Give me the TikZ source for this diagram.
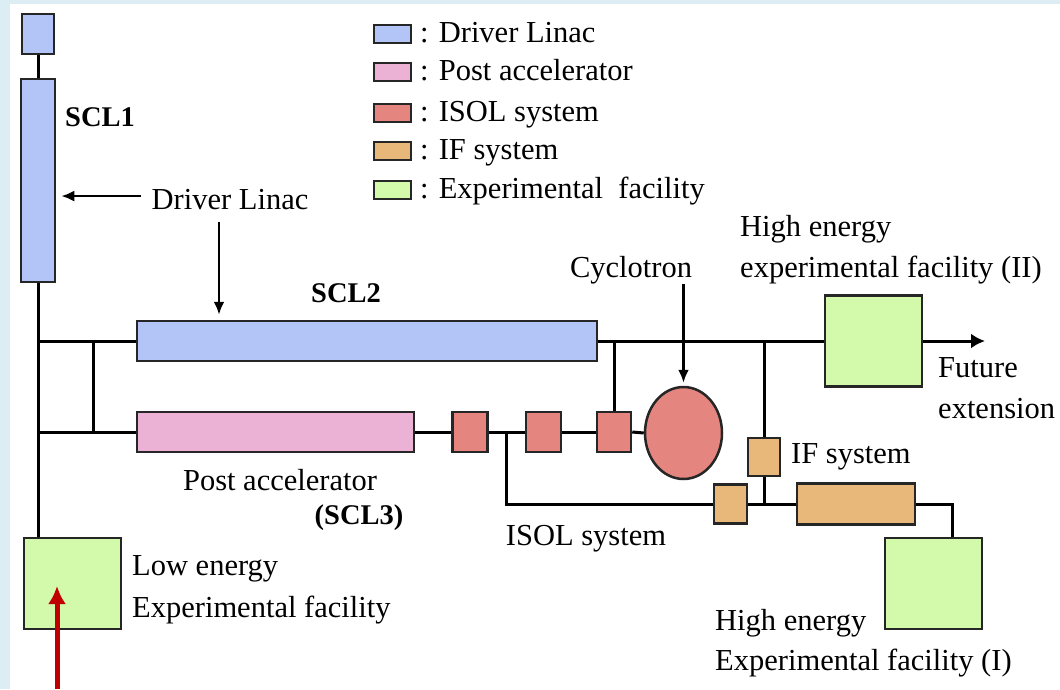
\documentclass[tikz,border=0pt]{standalone}
\usepackage{fontspec}
\setmainfont{Liberation Serif}
\usepackage{xcolor}
\usepackage{tikz}
\usetikzlibrary{calc,positioning,shapes.geometric,arrows.meta}

\definecolor{drvblue}{RGB}{178,197,246}
\definecolor{postpink}{RGB}{236,178,214}
\definecolor{isolred}{RGB}{229,133,127}
\definecolor{iforange}{RGB}{232,184,122}
\definecolor{expgreen}{RGB}{210,250,170}
\definecolor{frameblue}{RGB}{220,237,243}
\definecolor{arrowred}{RGB}{192,0,0}

\tikzset{
	lbl/.style={font=\fontsize{30.5}{36}\selectfont,inner sep=0pt},
	boldlbl/.style={font=\fontsize{28.5}{34}\selectfont\bfseries,inner sep=0pt},
	unit/.style={draw=black!85,line width=2.5pt,inner sep=0pt,rectangle},
	beam/.style={line width=3pt},
	pointer/.style={-{Latex[length=13pt,width=11pt]},line width=2.5pt}
}

\begin{document}
\begin{tikzpicture}[x=1pt,y=-1pt]
	\useasboundingbox (0,0) rectangle (1060,689);
	\fill[frameblue] (0,0) rectangle (10,689);
	\fill[frameblue] (0,0) rectangle (1060,4);

	\node[unit,fill=drvblue,minimum width=32pt,minimum height=40pt] (inj) at (38,34) {};
	\node[unit,fill=drvblue,minimum width=34pt,minimum height=203pt] (scl1) at (38,180.5) {};
	\node[unit,fill=drvblue,minimum width=460pt,minimum height=40pt] (scl2) at (367,341) {};
	\node[unit,fill=postpink,minimum width=277pt,minimum height=40pt] (post) at (275.5,432) {};
	\node[unit,fill=isolred,minimum width=35pt,minimum height=40pt] (isolA) at (470,432) {};
	\node[unit,fill=isolred,minimum width=35pt,minimum height=40pt] (isolB) at (543.5,432) {};
	\node[unit,fill=isolred,minimum width=34pt,minimum height=40pt] (isolC) at (614,432) {};
	\node[unit,ellipse,fill=isolred,minimum width=77pt,minimum height=92pt] (cyc) at (683.5,433) {};
	\node[unit,fill=iforange,minimum width=32pt,minimum height=38pt] (ifA) at (764,457) {};
	\node[unit,fill=iforange,minimum width=33pt,minimum height=39pt] (ifB) at (730.5,504) {};
	\node[unit,fill=iforange,minimum width=118pt,minimum height=41pt] (ifC) at (856,504) {};
	\node[unit,fill=expgreen,minimum width=97pt,minimum height=91pt] (lowexp) at (72.5,583.5) {};
	\node[unit,fill=expgreen,minimum width=97pt,minimum height=91pt] (hexpI) at (933.5,583.5) {};
	\node[unit,fill=expgreen,minimum width=97pt,minimum height=91pt] (hexpII) at (873.5,341) {};

	\draw[beam] (inj.south) -- (scl1.north);
	\draw[beam] (scl1.south) -- (scl1.south |- lowexp.north);
	\draw[beam] (scl1.south |- scl2.west) -- (scl2.west);
	\draw[beam] (scl1.south |- post.west) -- (post.west);
	\coordinate (tapA) at (93,341);
	\draw[beam] (tapA) -- (tapA |- post.west);
	\draw[beam] (scl2.east) -- (hexpII.west);
	\coordinate (future) at (985,341);
	\draw[beam,-{Latex[length=14pt,width=15pt]}] (hexpII.east) -- (future);
	\draw[beam] (post.east) -- (isolA.west);
	\draw[beam] (isolA.east) -- (isolB.west);
	\draw[beam] (isolB.east) -- (isolC.west);
	\draw[beam] (isolC.east) -- (cyc.west);
	\draw[beam] (isolC.north) -- (isolC.north |- scl2.east);
	\draw[beam] (ifA.north) -- (ifA.north |- scl2.east);
	\coordinate (tapB) at (506,432);
	\draw[beam] (tapB) |- (ifB.west);
	\draw[beam] (ifB.east) -- (ifC.west);
	\draw[beam] (ifA.south) -- (ifA.south |- ifB.east);
	\coordinate (tapC) at (952,504);
	\draw[beam] (ifC.east) -- (tapC) -- (tapC |- hexpI.north);

	\foreach \col/\txt/\b [count=\i] in {drvblue/Driver Linac/42,postpink/Post accelerator/80,isolred/ISOL system/121,iforange/IF system/159,expgreen/Experimental\ \ facility/198}
	{
	\node[unit,fill=\col,line width=2pt,minimum width=37pt,minimum height=18pt] (sw\i) at (392.5,\b-8) {};
	\node[lbl,anchor=base west] (key\i) at (420,\b) {: \txt};
	}

	\node[boldlbl,anchor=base] (scl1lab) at (100,126) {SCL1};
	\node[boldlbl,anchor=base] (scl2lab) at (346,302) {SCL2};
	\node[boldlbl,anchor=base] (scl3lab) at (359,524) {(SCL3)};

	\node[lbl,anchor=base] (dlin) at (230,209) {Driver Linac};
	\coordinate (dB) at ([xshift=-10pt,yshift=3pt]dlin.west);
	\draw[pointer,shorten >=5pt] (dB) -- (scl1.east |- dB);
	\coordinate (dA) at ([xshift=-11pt,yshift=-12pt]dlin.south);
	\draw[pointer,shorten >=5pt] (dA) -- (dA |- scl2.north);

	\node[lbl,anchor=base] (cycl) at (631,277) {Cyclotron};
	\draw[pointer,shorten >=3pt] (cyc.north |- cycl.south) -- (cyc.north);

	\node[lbl,anchor=base] (postlab) at (280,490) {Post accelerator};
	\node[lbl,anchor=base] (isollab) at (586,545) {ISOL system};
	\node[lbl,anchor=base west] (iflab) at (791,463) {IF system};
	\node[lbl,anchor=base west] (lowA) at (132,575) {Low energy};
	\node[lbl,anchor=base west] (lowB) at (132,617) {Experimental facility};
	\node[lbl,anchor=base west] (hiIA) at (715,630) {High energy};
	\node[lbl,anchor=base west] (hiIB) at (715,670) {Experimental facility (I)};
	\node[lbl,anchor=base west] (hiIIA) at (740,236) {High energy};
	\node[lbl,anchor=base west] (hiIIB) at (740,277) {experimental facility (II)};
	\node[lbl,anchor=base west] (futA) at (938,377) {Future};
	\node[lbl,anchor=base west] (futB) at (938,418) {extension};

	\coordinate (redtail) at (57,689);
	\coordinate (redtip) at (57,586);
	\draw[arrowred,line width=5pt,-{Latex[length=18pt,width=18pt]}] (redtail) -- (redtip);
\end{tikzpicture}
\end{document}
